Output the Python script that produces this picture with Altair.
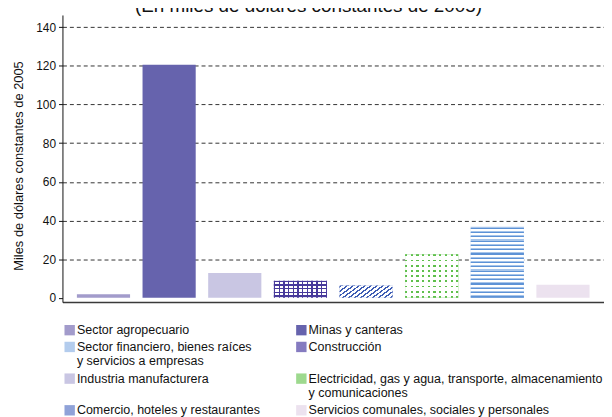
import json
import altair as alt
import pandas as pd

# ---- data ----
categories = [
    "Sector agropecuario",
    "Minas y canteras",
    "Industria manufacturera",
    "Construcción",
    "Comercio, hoteles y restaurantes",
    "Electricidad, gas y agua, transporte, almacenamiento y comunicaciones",
    "Sector financiero, bienes raíces y servicios a empresas",
    "Servicios comunales, sociales y personales",
]
values = [1.8, 120.6, 12.9, 8.8, 6.4, 22.5, 36.9, 6.8]

legend_order = [
    "Sector agropecuario",
    "Minas y canteras",
    "Sector financiero, bienes raíces y servicios a empresas",
    "Construcción",
    "Industria manufacturera",
    "Electricidad, gas y agua, transporte, almacenamiento y comunicaciones",
    "Comercio, hoteles y restaurantes",
    "Servicios comunales, sociales y personales",
]
legend_lines = {
    "Sector financiero, bienes raíces y servicios a empresas":
        ["Sector financiero, bienes raíces", "y servicios a empresas"],
    "Electricidad, gas y agua, transporte, almacenamiento y comunicaciones":
        ["Electricidad, gas y agua, transporte, almacenamiento", "y comunicaciones"],
}
y_ticks = [0, 20, 40, 60, 80, 100, 120, 140]
title_text = "(En miles de dólares constantes de 2005)"
y_title = "Miles de dólares constantes de 2005"

# ---- styling ----
FONT = "Liberation Sans"
legend_colors = ["#a29bcb", "#6663ad", "#b3cced", "#857bc0",
                 "#c9c6e3", "#9dd98e", "#8fa2d8", "#ece2ef"]
W, H = 547, 290
Y_MIN, Y_MAX = -2.2, 146.3
P_IN, P_OUT = 0.19, 0.22
STEP = W / (len(categories) - P_IN + 2 * P_OUT)
BW = STEP * (1 - P_IN)
PXU = H / (Y_MAX - Y_MIN)
CLEAR = "rgba(255,255,255,0)"

CON = "Construcción"
COM = "Comercio, hoteles y restaurantes"
ELE = "Electricidad, gas y agua, transporte, almacenamiento y comunicaciones"
FIN = "Sector financiero, bienes raíces y servicios a empresas"

df = pd.DataFrame({"cat": categories, "val": values})


def bar_h(cat):
    return (values[categories.index(cat)] - Y_MIN) * PXU


def grad(length, intervals, on, off, vertical):
    """gradient stops: 'on' colour on pixel intervals, 'off' elsewhere"""
    stops = []
    for a, b in intervals:
        a = max(0.0, min(1.0, a / length))
        b = max(0.0, min(1.0, b / length))
        stops += [{"offset": a, "color": off}, {"offset": a, "color": on},
                  {"offset": b, "color": on}, {"offset": b, "color": off}]
    g = {"gradient": "linear", "stops": [{"offset": 0, "color": off}] + stops +
         [{"offset": 1, "color": off}]}
    if vertical:
        g.update(x1=0, y1=0, x2=0, y2=1)
    else:
        g.update(x1=0, y1=0, x2=1, y2=0)
    return g


def periodic(length, period, width, start=0.0):
    out, p = [], start
    while p < length:
        out.append((p, p + width))
        p += period
    return out


def spread(length, count, width):
    per = (length - width) / (count - 1)
    return [(i * per, i * per + width) for i in range(count)]


base = alt.Chart(df).encode(
    x=alt.X("cat:N", sort=categories,
            scale=alt.Scale(paddingInner=P_IN, paddingOuter=P_OUT),
            axis=alt.Axis(labels=False, ticks=False, title=None,
                          domainColor="#3a3a3a", domainWidth=1.5, grid=False)),
    y=alt.Y("val:Q", scale=alt.Scale(domain=[Y_MIN, Y_MAX], nice=False, zero=False),
            axis=alt.Axis(values=y_ticks, title=y_title, titleFont=FONT,
                          titleFontSize=13, titleFontWeight="normal", titleColor="#111",
                          titlePadding=10, titleY=152, labelFont=FONT, labelFontSize=12,
                          labelColor="#111", labelPadding=3, tickSize=4,
                          tickColor="#111", domainColor="#111",
                          gridDash=[4, 3], gridColor="#333",
                          gridOpacity={"condition": {"test": "datum.value === 0", "value": 0},
                                       "value": 1})),
    y2=alt.value("height"),
)

label_expr = f"{json.dumps(legend_lines, ensure_ascii=False)}[datum.label] || datum.label"

main = base.mark_bar().encode(
    color=alt.Color("cat:N", scale=alt.Scale(domain=legend_order, range=legend_colors),
                    legend=alt.Legend(title=None, orient="none", legendX=1, legendY=312,
                                      direction="horizontal", columns=2,
                                      columnPadding=35, rowPadding=4,
                                      symbolType="square", symbolSize=110,
                                      symbolStrokeWidth=0, labelOffset=1,
                                      labelFont=FONT, labelFontSize=12.6,
                                      labelColor="#111", labelLimit=400,
                                      labelExpr=label_expr))
)


def only(cats):
    return base.transform_filter(alt.FieldOneOfPredicate(field="cat", oneOf=cats))


white = only([CON, COM, FIN]).mark_bar(color="white")

# Sector financiero: horizontal blue stripes
h_fin = bar_h(FIN)
fin_light = only([FIN]).mark_bar(color=grad(h_fin, periodic(h_fin, 4.6, 2.4), "#a6c4ea", CLEAR, True))
fin_dark = only([FIN]).mark_bar(color=grad(h_fin, periodic(h_fin, 4.6, 1.2, 1.2), "#5d92d6", CLEAR, True))

# Construcción: purple lattice
h_con = bar_h(CON)
con_h = only([CON]).mark_bar(color=grad(h_con, periodic(h_con, 4.6, 1.4), "#47399b", CLEAR, True))
con_v = only([CON]).mark_bar(color=grad(BW, spread(BW, 12, 1.4), "#47399b", CLEAR, False))

# Comercio: diagonal blue hatch
h_com = bar_h(COM)
diag_len = BW + h_com
k = (BW + h_com) / (BW ** 2 + h_com ** 2)
com_grad = grad(diag_len, periodic(diag_len, 6.0, 2.3, 1.0), "#3d5cb4", CLEAR, False)
com_grad.update(x1=0, y1=0, x2=BW * k, y2=h_com * k)
com = only([COM]).mark_bar(color=com_grad)

# Electricidad: green dots
h_ele = bar_h(ELE)
ele_green = only([ELE]).mark_bar(color="#5fbf4c")
ele_h = only([ELE]).mark_bar(color=grad(h_ele, spread(h_ele, 9, 2.1), CLEAR, "white", True))
ele_v = only([ELE]).mark_bar(color=grad(BW, spread(BW, 10, 2.1), CLEAR, "white", False))

chart = alt.layer(
    main, white, fin_light, fin_dark, con_h, con_v, com, ele_green, ele_h, ele_v
).properties(
    width=W, height=H,
    title=alt.Title(title_text, font=FONT, fontSize=19, fontWeight="normal",
                    color="#111", anchor="middle", offset=-1, dx=-25),
    autosize=alt.AutoSizeParams(type="none"),
    padding={"left": 55, "top": 5, "right": 0, "bottom": 114},
).configure_view(stroke=None)

chart.save("out.html", embed_options={"renderer": "svg", "actions": False})
